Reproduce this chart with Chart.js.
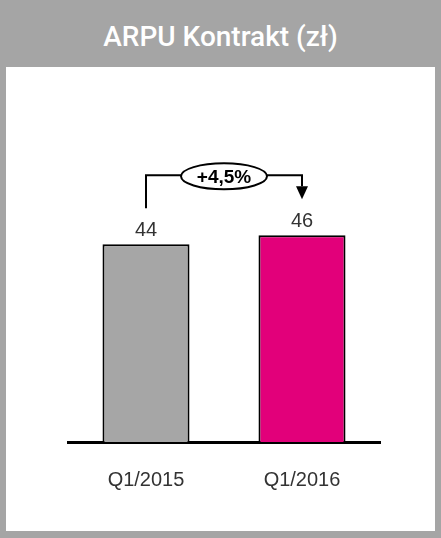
<!DOCTYPE html>
<html>
<head>
<meta charset="utf-8">
<script src="https://cdn.jsdelivr.net/npm/chart.js@4"></script>
<style>
  html, body { margin: 0; padding: 0; }
  body { width: 441px; height: 538px; background: #a5a5a5; position: relative; overflow: hidden; }
  #title { position: absolute; left: 0; top: 0; width: 441px; height: 67px; line-height: 74px;
           text-align: center; color: #fff; font-family: Roboto, "Liberation Sans", sans-serif;
           font-weight: 500; font-size: 28px; }
  #panel { position: absolute; left: 6px; top: 67px; width: 429px; height: 464px; background: #fff; }
</style>
</head>
<body>
<div id="title">ARPU Kontrakt (zł)</div>
<div id="panel"><canvas id="arpuChart"></canvas></div>
<script>
// data
var categories = ['Q1/2015', 'Q1/2016'];
var arpuValues = [44, 46];
var changeLabel = '+4,5%';

var changeArrow = {
    id: 'changeArrow',
    afterDatasetsDraw: function(chart) {
        var ctx = chart.ctx;
        var meta = chart.getDatasetMeta(0);
        var y = chart.scales.y;
        ctx.save();

        // value labels over the bars
        ctx.fillStyle = '#333';
        ctx.font = '20px "Liberation Sans", Arial, sans-serif';
        ctx.textAlign = 'center';
        ctx.textBaseline = 'middle';
        meta.data.forEach(function(bar, i) {
            ctx.fillText(arpuValues[i], bar.x, bar.y - 14);
        });

        // bracket with arrow
        var x1 = meta.data[0].x, x2 = meta.data[1].x;
        var yTop = y.getPixelForValue(arpuValues[1]) - 60;
        var yLeft = y.getPixelForValue(arpuValues[0]) - 36;
        var yTip = y.getPixelForValue(arpuValues[1]) - 36;
        ctx.strokeStyle = '#000';
        ctx.lineWidth = 2;
        ctx.beginPath();
        ctx.moveTo(x1, yLeft);
        ctx.lineTo(x1, yTop);
        ctx.lineTo(x2, yTop);
        ctx.lineTo(x2, yTip - 13);
        ctx.stroke();
        ctx.fillStyle = '#000';
        ctx.beginPath();
        ctx.moveTo(x2 - 6, yTip - 13);
        ctx.lineTo(x2 + 6, yTip - 13);
        ctx.lineTo(x2, yTip);
        ctx.closePath();
        ctx.fill();

        // ellipse with the change
        var cx = (x1 + x2) / 2;
        ctx.beginPath();
        ctx.ellipse(cx, yTop + 1, 43, 13, 0, 0, Math.PI * 2);
        ctx.fillStyle = '#fff';
        ctx.fill();
        ctx.stroke();
        ctx.fillStyle = '#000';
        ctx.font = 'bold 19px "Liberation Sans", Arial, sans-serif';
        ctx.fillText(changeLabel, cx, yTop + 2);
        ctx.restore();
    }
};

var ctx = document.getElementById('arpuChart').getContext('2d');
var chart = new Chart(ctx, {
    type: 'bar',
    data: {
        labels: categories,
        datasets: [{
            data: arpuValues,
            backgroundColor: ['#a6a6a6', '#e2007a'],
            borderColor: '#000',
            borderWidth: 2,
            borderSkipped: 'bottom',
            barPercentage: 0.558,
            categoryPercentage: 1
        }]
    },
    options: {
        responsive: true,
        maintainAspectRatio: false,
        animation: false,
        layout: { padding: { top: 83, left: 62, right: 55, bottom: 13 } },
        plugins: { legend: { display: false }, tooltip: { enabled: false } },
        scales: {
            x: {
                grid: { display: false, drawTicks: false },
                border: { display: true, color: '#000', width: 3 },
                ticks: { color: '#333', padding: 26, font: { size: 20, family: '"Liberation Sans", Arial, sans-serif' } }
            },
            y: { display: false, min: 0, max: 65 }
        }
    },
    plugins: [changeArrow]
});
</script>
</body>
</html>
